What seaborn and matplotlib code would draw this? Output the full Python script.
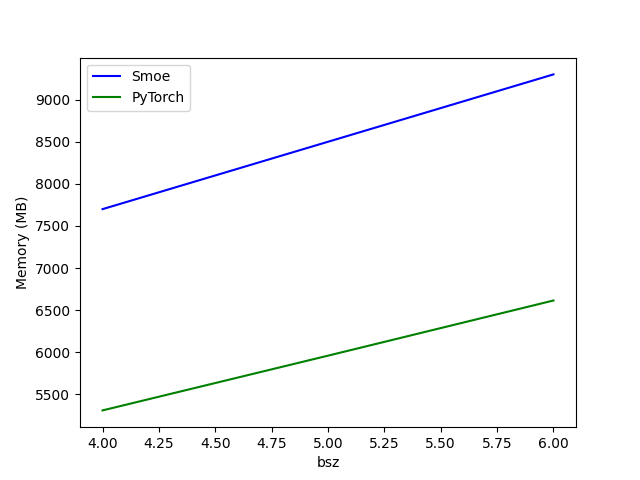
import pandas as pd
import matplotlib.pyplot as plt
import seaborn as sns

bsz = [4, 5, 6]
smoe_mem = [7700, 8500, 9300]
pytorch_mem = [5310, 5960, 6615]

df = pd.DataFrame({
    'bsz': bsz * 2,
    'mem': smoe_mem + pytorch_mem,
    'impl': ['Smoe'] * len(bsz) + ['PyTorch'] * len(bsz),
})

fig, ax = plt.subplots(figsize=(6.4, 4.8), dpi=100)
sns.lineplot(data=df, x='bsz', y='mem', hue='impl',
             palette={'Smoe': 'blue', 'PyTorch': 'green'}, ax=ax)
ax.set_xlabel('bsz')
ax.set_ylabel('Memory (MB)')
ax.legend(loc='upper left')
plt.savefig('out.png')
